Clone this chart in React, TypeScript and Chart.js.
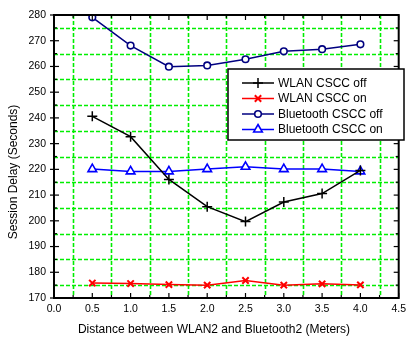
import React, { useEffect, useRef } from "react";
import { Chart, registerables } from "chart.js";
import { drawPoint } from "chart.js/helpers";

Chart.register(...registerables);

const distances = [0.5, 1.0, 1.5, 2.0, 2.5, 3.0, 3.5, 4.0];
const wlanOff = [240.6, 232.7, 216.1, 205.5, 199.7, 207.3, 210.6, 219.6];
const wlanOn = [175.8, 175.6, 175.2, 175.0, 176.8, 175.0, 175.5, 175.1];
const btOff = [279.1, 268.1, 259.9, 260.4, 262.8, 265.9, 266.7, 268.6];
const btOn = [220.1, 219.2, 219.2, 220.1, 221.0, 220.1, 220.1, 219.2];
const seriesNames = ["WLAN CSCC off", "WLAN CSCC on", "Bluetooth CSCC off", "Bluetooth CSCC on"];
const xMajor = [0, 0.5, 1, 1.5, 2, 2.5, 3, 3.5, 4, 4.5];
const yMajor = [170, 180, 190, 200, 210, 220, 230, 240, 250, 260, 270, 280];
const xGrid = [0.25, 0.75, 1.25, 1.75, 2.25, 2.75, 3.25, 3.75, 4.25];
const yGrid = [175, 185, 195, 205, 215, 225, 235, 245, 255, 265, 275];
const xTitle = "Distance between WLAN2 and Bluetooth2 (Meters)";
const yTitle = "Session Delay (Seconds)";

const FONT = "'Liberation Sans', Arial, Helvetica, sans-serif";

const framePlugin = {
  id: "frameAndGrid",
  beforeDatasetsDraw(chart: any) {
    const { ctx, chartArea: a, scales } = chart;
    const xs = scales.x, ys = scales.y;
    ctx.save();
    ctx.strokeStyle = "#00ee00";
    ctx.lineWidth = 1.6;
    ctx.setLineDash([4, 2]);
    xGrid.forEach((v) => {
      const px = Math.round(xs.getPixelForValue(v)) + 0.5;
      ctx.beginPath();
      ctx.moveTo(px, a.top);
      ctx.lineTo(px, a.bottom);
      ctx.stroke();
    });
    yGrid.forEach((v) => {
      const py = Math.round(ys.getPixelForValue(v)) + 0.5;
      ctx.beginPath();
      ctx.moveTo(a.left, py);
      ctx.lineTo(a.right, py);
      ctx.stroke();
    });
    ctx.restore();
  },
  afterDatasetsDraw(chart: any) {
    const { ctx, chartArea: a, scales } = chart;
    const xs = scales.x, ys = scales.y;
    ctx.save();
    ctx.strokeStyle = "#000";
    ctx.lineWidth = 1.2;
    ctx.setLineDash([]);
    const tick = (x1: number, y1: number, x2: number, y2: number) => {
      ctx.beginPath();
      ctx.moveTo(x1, y1);
      ctx.lineTo(x2, y2);
      ctx.stroke();
    };
    xMajor.forEach((v) => {
      const px = xs.getPixelForValue(v);
      tick(px, a.bottom, px, a.bottom - 5);
      tick(px, a.top, px, a.top + 5);
    });
    xGrid.forEach((v) => {
      const px = xs.getPixelForValue(v);
      tick(px, a.bottom, px, a.bottom - 3);
      tick(px, a.top, px, a.top + 3);
    });
    yMajor.forEach((v) => {
      const py = ys.getPixelForValue(v);
      tick(a.left - 4, py, a.left + 5, py);
      tick(a.right, py, a.right - 5, py);
    });
    yGrid.forEach((v) => {
      const py = ys.getPixelForValue(v);
      tick(a.left, py, a.left + 3, py);
      tick(a.right, py, a.right - 3, py);
    });
    ctx.lineWidth = 2;
    ctx.strokeRect(a.left, a.top, a.right - a.left, a.bottom - a.top);

    // legend
    const lx = 228, ly = 69, lw = 176, lh = 71;
    ctx.fillStyle = "#fff";
    ctx.fillRect(lx, ly, lw, lh);
    ctx.lineWidth = 1.5;
    ctx.strokeStyle = "#000";
    ctx.strokeRect(lx, ly, lw, lh);
    ctx.font = `12px ${FONT}`;
    ctx.textBaseline = "middle";
    ctx.textAlign = "left";
    chart.data.datasets.forEach((ds: any, i: number) => {
      const y = ly + 14 + i * 15.5;
      ctx.strokeStyle = ds.borderColor;
      ctx.lineWidth = 1.5;
      ctx.beginPath();
      ctx.moveTo(242, y);
      ctx.lineTo(274, y);
      ctx.stroke();
      ctx.fillStyle = ds.pointBackgroundColor;
      ctx.strokeStyle = ds.borderColor;
      ctx.lineWidth = ds.pointBorderWidth;
      drawPoint(ctx, { pointStyle: ds.pointStyle, radius: ds.pointRadius, rotation: 0, borderWidth: ds.pointBorderWidth }, 258, y);
      ctx.fillStyle = "#000";
      ctx.fillText(ds.label, 278, y + 0.5);
    });

    // titles
    ctx.fillStyle = "#000";
    ctx.font = `12px ${FONT}`;
    ctx.textAlign = "center";
    ctx.textBaseline = "middle";
    ctx.fillText(xTitle, 214, 330);
    ctx.save();
    ctx.translate(14, 172);
    ctx.rotate(-Math.PI / 2);
    ctx.fillText(yTitle, 0, 0);
    ctx.restore();
    ctx.restore();
  },
};

export default function App() {
  const ref = useRef<HTMLCanvasElement | null>(null);
  useEffect(() => {
    document.body.style.margin = "0";
    const mk = (label: string, data: number[], color: string, style: string, radius: number, bw: number, bg: string) => ({
      label,
      data: distances.map((x, i) => ({ x, y: data[i] })),
      borderColor: color,
      backgroundColor: bg,
      borderWidth: 1.5,
      pointStyle: style,
      pointRadius: radius,
      pointBorderWidth: bw,
      pointBackgroundColor: bg,
      pointBorderColor: color,
      tension: 0,
    });
    const chart = new Chart(ref.current!, {
      type: "line",
      data: {
        datasets: [
          mk(seriesNames[0], wlanOff, "#000000", "cross", 5, 1.5, "#000000"),
          mk(seriesNames[1], wlanOn, "#ff0000", "crossRot", 4.5, 2, "#ff0000"),
          mk(seriesNames[2], btOff, "#000080", "circle", 3.3, 1.6, "#ffffff"),
          mk(seriesNames[3], btOn, "#0000ff", "triangle", 5, 1.6, "#ffffff"),
        ] as any,
      },
      options: {
        animation: false,
        responsive: false,
        devicePixelRatio: 1,
        layout: { padding: { top: 15, right: 8, left: 0, bottom: 0 } },
        plugins: { legend: { display: false }, tooltip: { enabled: false } },
        scales: {
          x: {
            type: "linear",
            min: 0,
            max: 4.5,
            grid: { display: false, drawTicks: false, tickLength: 0 },
            border: { display: false },
            afterBuildTicks: (s: any) => {
              s.ticks = xMajor.map((v) => ({ value: v }));
            },
            ticks: {
              padding: 5,
              color: "#000",
              font: { size: 10.5, family: FONT },
              maxRotation: 0,
              autoSkip: false,
              callback: (v: any) => Number(v).toFixed(1),
            },
            afterFit: (s: any) => {
              s.height = 40;
            },
          },
          y: {
            type: "linear",
            min: 170,
            max: 280,
            grid: { display: false, drawTicks: false, tickLength: 0 },
            border: { display: false },
            afterBuildTicks: (s: any) => {
              s.ticks = yMajor.map((v) => ({ value: v }));
            },
            ticks: {
              padding: 8,
              color: "#000",
              font: { size: 10.5, family: FONT },
              autoSkip: false,
              callback: (v: any) => String(v),
            },
            afterFit: (s: any) => {
              s.width = 54;
            },
          },
        },
      } as any,
      plugins: [framePlugin],
    });
    return () => chart.destroy();
  }, []);
  return (
    <div style={{ position: "absolute", left: 0, top: 0, width: 411, height: 338, background: "#fff" }}>
      <canvas ref={ref} width={411} height={338} style={{ width: 411, height: 338, display: "block" }} />
    </div>
  );
}
